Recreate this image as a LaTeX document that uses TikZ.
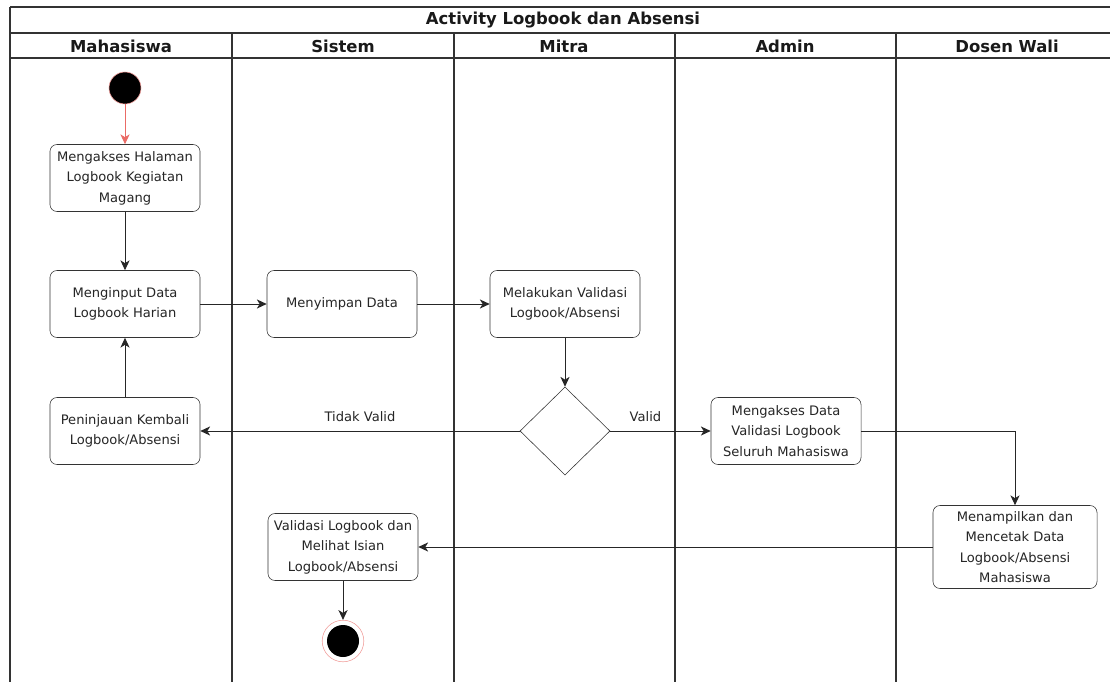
\documentclass[tikz,border=0pt]{standalone}
\usepackage{fontspec}
\setmainfont{DejaVu Sans}
\usepackage{tikz}
\usetikzlibrary{arrows.meta,shapes.geometric}
\definecolor{lanegray}{HTML}{333333}
\definecolor{startred}{HTML}{F19C99}
\definecolor{arrowred}{HTML}{EA6B66}

\begin{document}
\begin{tikzpicture}[x=0.025cm, y=-0.025cm, >={Stealth[length=7pt,width=6.5pt,inset=2pt]},
  act/.style={draw=black!80, rounded corners=5pt, fill=white, align=center,
    minimum width=3.75cm, minimum height=1.675cm, inner sep=2pt,
    font=\fontsize{9.3}{14.6}\selectfont, text=black!85},
  lane/.style={font=\fontsize{11.7}{14}\selectfont\bfseries, text=black!90},
  lbl/.style={font=\fontsize{9.3}{12}\selectfont, text=black!85},
  flow/.style={->, draw=black!85, line width=0.7pt}]
  \useasboundingbox (0,0) rectangle (1110,682);
  % swimlanes
  \draw[lanegray, line width=1.4pt] (10,7) -- (1110,7);
  \draw[lanegray, line width=0.9pt] (10,7) -- (10,33) (10,33) -- (1110,33) (10,58) -- (1110,58);
  \foreach \x in {10,232,454,675,896}
    \draw[lanegray, line width=0.9pt] (\x,33) -- (\x,682);
  \node[lane] (title) at (563,20) {Activity Logbook dan Absensi};
  \node[lane] (mhs) at (121,46) {Mahasiswa};
  \node[lane] (sistem) at (343,46) {Sistem};
  \node[lane] (mitra) at (564,46) {Mitra};
  \node[lane] (admin) at (785,46) {Admin};
  \node[lane] (dosen) at (1007,46) {Dosen Wali};

  % activities
  \node[circle, fill=black, draw=startred, minimum size=0.8cm, inner sep=0] (start) at (125,88) {};
  \node[act] (akses) at (125,178) {Mengakses Halaman\\Logbook Kegiatan\\Magang};
  \node[act] (input) at (125,304) {Menginput Data\\Logbook Harian};
  \node[act] (simpan) at (342,304) {Menyimpan Data};
  \node[act] (validasi) at (565,304) {Melakukan Validasi\\Logbook/Absensi};
  \node[diamond, draw=black!80, fill=white, minimum width=2.25cm, minimum height=2.2cm, inner sep=0] (cek) at (565,431) {};
  \node[act] (tinjau) at (125,431) {Peninjauan Kembali\\Logbook/Absensi};
  \node[act] (aksesdata) at (786,431) {Mengakses Data\\Validasi Logbook\\Seluruh Mahasiswa};
  \node[act, minimum width=4.1cm, minimum height=2.075cm] (cetak) at (1015,547) {Menampilkan dan\\Mencetak Data\\Logbook/Absensi\\Mahasiswa};
  \node[act] (lihat) at (343,547) {Validasi Logbook dan\\Melihat Isian\\Logbook/Absensi};
  \node[circle, draw=startred, fill=white, minimum size=1.04cm, inner sep=0] (akhir) at (343,641) {};
  \node[circle, fill=black, minimum size=0.8cm, inner sep=0] (akhirdot) at (akhir) {};

  % flows
  \draw[flow, draw=arrowred] (start) -- (akses);
  \draw[flow] (akses) -- (input);
  \draw[flow] (input) -- (simpan);
  \draw[flow] (simpan) -- (validasi);
  \draw[flow] (validasi) -- (cek);
  \draw[flow] (tinjau) -- (input);
  \draw[flow] (cek) -- node[lbl, above=3pt] (tidak) {Tidak Valid} (tinjau);
  \draw[flow] (cek) -- node[lbl, above=3pt, pos=0.35] (valid) {Valid} (aksesdata);
  \draw[flow] (aksesdata) -| (cetak);
  \draw[flow] (cetak) -- (lihat);
  \draw[flow] (lihat) -- (akhir);
\end{tikzpicture}
\end{document}
